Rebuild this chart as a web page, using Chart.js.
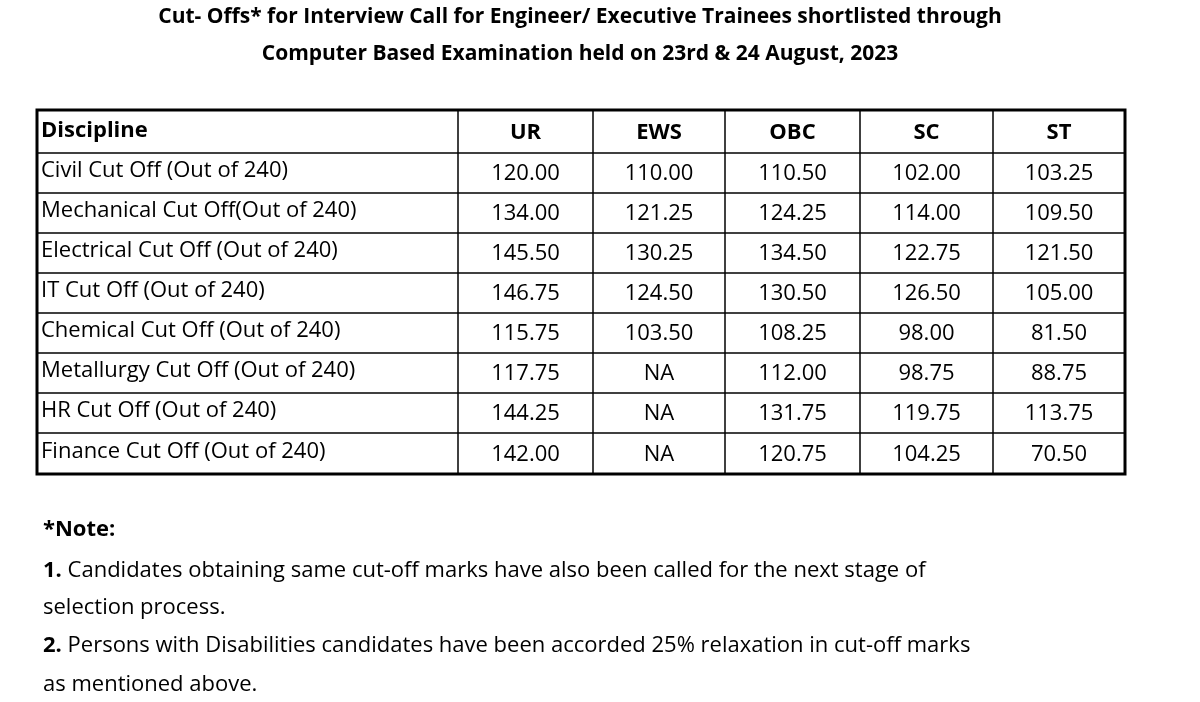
<!DOCTYPE html>
<html><head><meta charset="utf-8">
<script src="https://cdn.jsdelivr.net/npm/chart.js@4"></script>
<style>html,body{margin:0;padding:0;background:#fff}#wrap{width:1200px;height:702px}</style>
</head><body><div id="wrap"><canvas id="c"></canvas></div>
<script>
const titleLines = ["Cut- Offs* for Interview Call for Engineer/ Executive Trainees shortlisted through","Computer Based Examination held on 23rd & 24 August, 2023"];
const headers = ["Discipline","UR","EWS","OBC","SC","ST"];
const disciplines = ["Civil Cut Off (Out of 240)","Mechanical Cut Off(Out of 240)","Electrical Cut Off (Out of 240)","IT Cut Off (Out of 240)","Chemical Cut Off (Out of 240)","Metallurgy Cut Off (Out of 240)","HR Cut Off (Out of 240)","Finance Cut Off (Out of 240)"];
const UR  = ["120.00","134.00","145.50","146.75","115.75","117.75","144.25","142.00"];
const EWS = ["110.00","121.25","130.25","124.50","103.50","NA","NA","NA"];
const OBC = ["110.50","124.25","134.50","130.50","108.25","112.00","131.75","120.75"];
const SC  = ["102.00","114.00","122.75","126.50","98.00","98.75","119.75","104.25"];
const ST  = ["103.25","109.50","121.50","105.00","81.50","88.75","113.75","70.50"];
const notes = [["*Note:",""],["1.","Candidates obtaining same cut-off marks have also been called for the next stage of"],["","selection process."],["2.","Persons with Disabilities candidates have been accorded 25% relaxation in cut-off marks"],["","as mentioned above."]];

const colEdges=[37,458,593,725,860,993,1125];
const rowEdges=[110,153,193,233,273,313,353,393,433,474];
const F='"Open Sans", sans-serif';
function fitText(c,t,x,y,w){const m=c.measureText(t).width;c.save();c.translate(x,y);c.scale(w/m,1);c.fillText(t,0,0);c.restore();}
const tablePlugin={id:'tbl',afterDraw(ch){
  const c=ch.ctx,x=ch.scales.x,y=ch.scales.y;
  const X=v=>x.getPixelForValue(v),Y=v=>y.getPixelForValue(v);
  c.save();c.fillStyle='#000';c.textBaseline='middle';
  c.font='bold 21px '+F;c.textAlign='center';
  titleLines.forEach((t,i)=>c.fillText(t,X(580),Y(17+i*37)));
  const cols=[disciplines,UR,EWS,OBC,SC,ST];
  c.strokeStyle='#000';
  c.lineWidth=1.5;
  rowEdges.forEach(r=>{c.beginPath();c.moveTo(X(37),Y(r));c.lineTo(X(1125),Y(r));c.stroke();});
  colEdges.forEach(e=>{c.beginPath();c.moveTo(X(e),Y(110));c.lineTo(X(e),Y(474));c.stroke();});
  c.lineWidth=3;c.strokeRect(X(37),Y(110),X(1125)-X(37),Y(474)-Y(110));
  for(let j=0;j<6;j++){
    const cx=(colEdges[j]+colEdges[j+1])/2;
    c.font='bold 22px '+F;
    if(j==0){c.textAlign='left';c.fillText(headers[j],X(41),Y(131));}
    else{c.textAlign='center';c.fillText(headers[j],X(cx),Y(133));}
    c.font='22px '+F;
    cols[j].forEach((v,i)=>{const cy=(rowEdges[i+1]+rowEdges[i+2])/2;
      if(j==0){c.textAlign='left';c.fillText(v,X(41),Y(cy-2));}
      else{c.textAlign='center';c.fillText(v,X(cx),Y(cy+1));}});
  }
  c.textAlign='left';
  const ny=[530,571,608,646,685];
  notes.forEach((n,i)=>{let px=X(43);
    if(i==0){c.font='bold 22px '+F;c.fillText(n[0],px,Y(ny[i]));return;}
    if(n[0]){c.font='bold 22px '+F;c.fillText(n[0],px,Y(ny[i]));px+=c.measureText(n[0]+' ').width;}
    c.font='22px '+F;c.fillText(n[1],px,Y(ny[i]));});
  c.restore();
}};
new Chart(document.getElementById('c'),{type:'scatter',data:{datasets:[{data:[]}]},
 options:{responsive:true,maintainAspectRatio:false,animation:false,layout:{padding:0},
  plugins:{legend:{display:false},tooltip:{enabled:false}},
  scales:{x:{type:'linear',min:0,max:1200,display:false},y:{type:'linear',min:0,max:702,reverse:true,display:false}}},
 plugins:[tablePlugin]});
</script></body></html>
